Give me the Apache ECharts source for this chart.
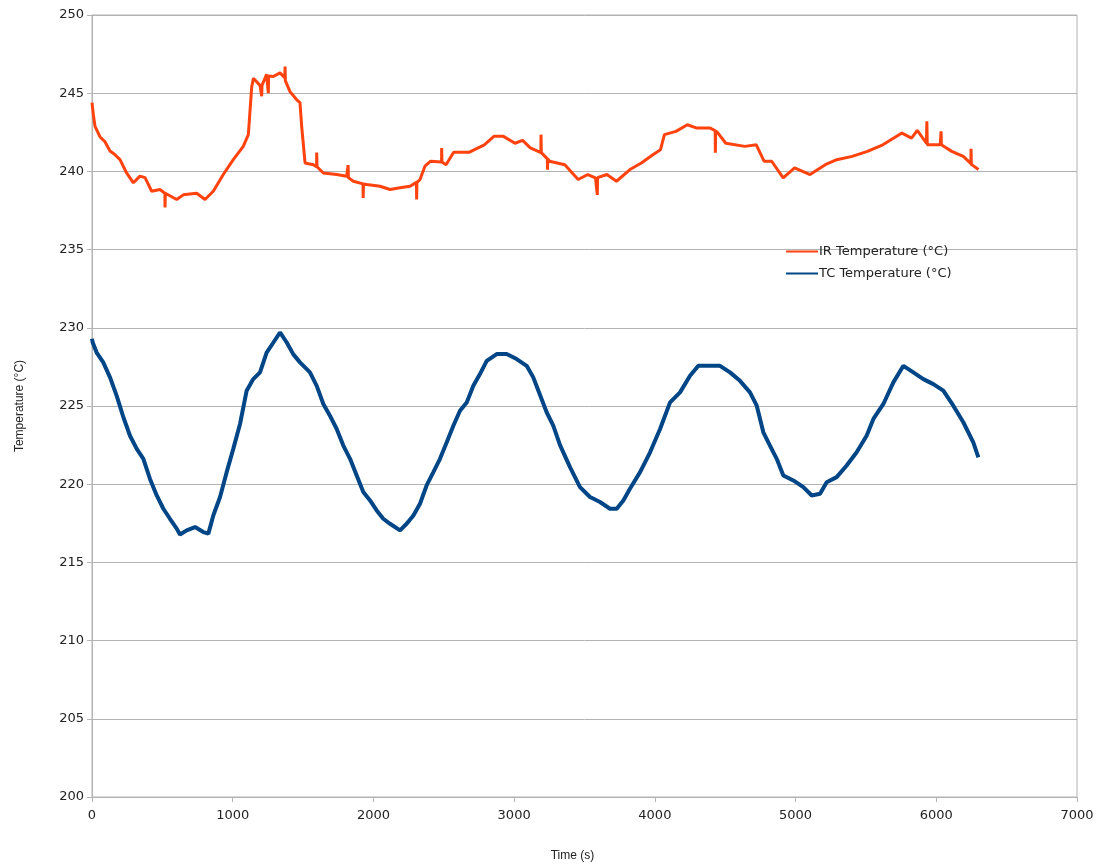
<!DOCTYPE html>
<html>
<head>
<meta charset="utf-8">
<script src="https://cdn.jsdelivr.net/npm/echarts@6/dist/echarts.min.js"></script>
<style>
html,body{margin:0;padding:0;background:#fff;}
#chart{width:1100px;height:867px;}
</style>
</head>
<body>
<div id="chart"></div>
<script>
const seriesNames = ['IR Temperature (°C)', 'TC Temperature (°C)'];
const xTicks = [0, 1000, 2000, 3000, 4000, 5000, 6000, 7000];
const yTicks = [200, 205, 210, 215, 220, 225, 230, 235, 240, 245, 250];

const irTime = [0,10,21,57,92,128,160,199,246,294,341,377,424,483,518,519,521,531,602,649,744,803,862,933,1004,1075,1111,1135,1147,1194,1205,1206,1208,1241,1252,1253,1255,1289,1336,1370,1372,1374,1407,1455,1478,1490,1514,1573,1596,1597,1599,1644,1739,1810,1819,1820,1822,1857,1926,1927,1929,1952,2047,2118,2189,2260,2306,2307,2309,2331,2366,2407,2484,2485,2487,2516,2570,2679,2788,2856,2924,3006,3060,3115,3190,3191,3193,3236,3237,3239,3251,3360,3455,3523,3578,3590,3591,3593,3659,3727,3823,3904,3986,4040,4068,4150,4231,4299,4394,4429,4430,4432,4449,4504,4640,4721,4776,4830,4912,4993,5103,5211,5293,5402,5511,5620,5756,5824,5865,5930,5933,5936,5946,6028,6033,6034,6036,6110,6192,6246,6247,6249,6300];
const irTemp = [244.4,243.6,242.9,242.2,241.9,241.3,241.1,240.75,239.9,239.27,239.7,239.6,238.73,238.84,238.6,237.7,238.6,238.5,238.2,238.5,238.6,238.2,238.73,239.8,240.75,241.6,242.35,245.4,245.96,245.5,245.5,244.8,245.5,246.2,246.1,245.0,246.1,246.07,246.3,246.0,246.7,245.8,245.1,244.58,244.4,242.9,240.54,240.43,240.3,241.2,240.3,239.9,239.8,239.69,239.6,240.4,239.6,239.37,239.2,238.3,239.2,239.16,239.05,238.84,238.95,239.05,239.3,238.2,239.3,239.48,240.33,240.65,240.6,241.5,240.6,240.43,241.22,241.22,241.7,242.24,242.24,241.8,241.98,241.5,241.2,242.35,241.2,240.8,240.1,240.8,240.65,240.43,239.48,239.8,239.59,239.6,238.5,239.6,239.8,239.37,240.12,240.54,241.07,241.39,242.35,242.56,242.98,242.77,242.77,242.6,241.2,242.6,242.45,241.8,241.6,241.7,240.65,240.65,239.59,240.22,239.8,240.43,240.75,240.96,241.28,241.7,242.45,242.13,242.62,241.8,243.2,241.7,241.6,241.7,241.7,242.56,241.7,241.28,240.96,240.5,241.45,240.45,240.12];

const tcTime = [0,5,33,80,128,175,223,270,318,365,412,460,507,554,602,625,673,732,791,827,862,910,957,1004,1052,1099,1146,1194,1241,1289,1336,1384,1431,1478,1549,1597,1644,1691,1739,1786,1834,1881,1928,1976,2023,2070,2118,2189,2236,2284,2331,2378,2426,2473,2521,2568,2615,2663,2710,2757,2805,2876,2947,3018,3089,3136,3184,3231,3278,3326,3397,3468,3539,3610,3681,3729,3776,3823,3895,3966,4037,4108,4179,4250,4309,4392,4463,4534,4605,4676,4724,4771,4818,4866,4913,4984,5055,5115,5174,5221,5292,5363,5434,5505,5553,5624,5695,5766,5837,5908,5979,6050,6121,6192,6263,6299];
const tcTemp = [229.3,229.06,228.42,227.79,226.83,225.66,224.28,223.1,222.26,221.62,220.34,219.28,218.43,217.79,217.16,216.78,217.05,217.26,216.94,216.84,218.0,219.18,220.77,222.26,223.85,225.98,226.72,227.15,228.42,229.06,229.7,229.06,228.3,227.79,227.15,226.29,225.13,224.38,223.53,222.47,221.62,220.56,219.5,218.96,218.32,217.79,217.47,217.05,217.47,218.0,218.75,219.92,220.77,221.62,222.68,223.74,224.7,225.23,226.29,227.04,227.89,228.32,228.32,228.0,227.57,226.83,225.7,224.6,223.74,222.5,221.09,219.81,219.18,218.86,218.43,218.43,218.96,219.71,220.77,222.04,223.53,225.23,225.87,226.93,227.57,227.57,227.57,227.15,226.61,225.87,225.02,223.32,222.47,221.62,220.56,220.24,219.81,219.28,219.39,220.13,220.45,221.2,222.04,223.1,224.17,225.13,226.51,227.57,227.15,226.72,226.4,225.98,225.02,223.96,222.68,221.72];

const irData = irTime.map((t, i) => [t, irTemp[i]]);
const tcData = tcTime.map((t, i) => [t, tcTemp[i]]);

const FONT = 'DejaVu Sans';
const chart = echarts.init(document.getElementById('chart'), null, {renderer: 'canvas'});
chart.setOption({
  animation: false,
  backgroundColor: '#ffffff',
  textStyle: {fontFamily: FONT},
  grid: {left: 92, right: 23, top: 15, bottom: 68, show: true, borderColor: '#b3b3b3', borderWidth: 1, containLabel: false},
  legend: {
    orient: 'vertical', left: 781, top: 240, itemWidth: 32, itemHeight: 2, itemGap: 9,
    icon: 'rect',
    textStyle: {fontFamily: FONT, fontSize: 13, color: '#222', padding: [0, 0, 0, -4]},
    data: seriesNames
  },
  xAxis: {
    type: 'value', min: xTicks[0], max: xTicks[xTicks.length - 1], interval: 1000,
    name: 'Time (s)', nameLocation: 'middle', nameGap: 53,
    nameTextStyle: {fontFamily: 'Liberation Sans', fontSize: 12, color: '#222', padding: [0, 24, 0, 0]},
    axisLine: {show: true, lineStyle: {color: '#b3b3b3'}},
    axisTick: {show: true, length: 5, lineStyle: {color: '#b3b3b3'}},
    axisLabel: {fontFamily: FONT, fontSize: 13, color: '#222', margin: 12, formatter: v => String(v)},
    splitLine: {show: false}
  },
  yAxis: {
    type: 'value', min: yTicks[0], max: yTicks[yTicks.length - 1], interval: 5,
    name: 'Temperature (°C)', nameLocation: 'middle', nameGap: 66,
    nameTextStyle: {fontFamily: 'Liberation Sans', fontSize: 12, color: '#222'},
    axisLine: {show: true, lineStyle: {color: '#b3b3b3'}},
    axisTick: {show: true, length: 5, lineStyle: {color: '#b3b3b3'}},
    axisLabel: {fontFamily: FONT, fontSize: 13, color: '#222', margin: 8, formatter: v => String(v)},
    splitLine: {show: true, lineStyle: {color: '#b3b3b3', width: 1}}
  },
  series: [
    {name: seriesNames[0], type: 'line', data: irData, showSymbol: false, symbol: 'none',
     lineStyle: {color: '#ff420e', width: 3}, itemStyle: {color: '#ff420e'}},
    {name: seriesNames[1], type: 'line', data: tcData, showSymbol: false, symbol: 'none',
     lineStyle: {color: '#004586', width: 4}, itemStyle: {color: '#004586'}}
  ]
});
</script>
</body>
</html>
